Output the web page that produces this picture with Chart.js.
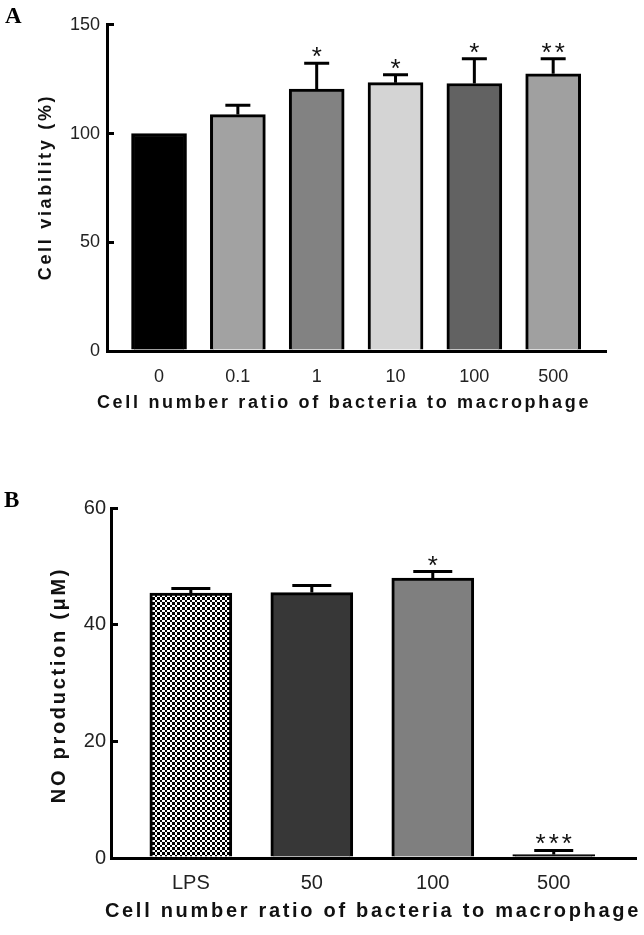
<!DOCTYPE html>
<html>
<head>
<meta charset="utf-8">
<script src="https://cdn.jsdelivr.net/npm/chart.js@4.4.1/dist/chart.umd.min.js"></script>
<style>
    body { margin: 0; background: #ffffff; }
    #wrapA { position: absolute; left: 0; top: 0; width: 644px; height: 430px; }
    #wrapB { position: absolute; left: 0; top: 460px; width: 644px; height: 475px; }
</style>
</head>
<body>
<div id="wrapA"><canvas id="chartA"></canvas></div>
<div id="wrapB"><canvas id="chartB"></canvas></div>
<script>
// Panel A: cell viability
const a_labels = ['0', '0.1', '1', '10', '100', '500'];
const a_mean = [100, 108.7, 120.4, 123.4, 123.0, 127.5];
const a_err = [0, 4.3, 11.9, 3.6, 11.4, 6.9];
const a_sig = ['', '', '*', '*', '*', '**'];
const a_ticks = [0, 50, 100, 150];

// Panel B: NO production
const b_labels = ['LPS', '50', '100', '500'];
const b_mean = [45.4, 45.5, 48.0, 0.6];
const b_err = [0.8, 1.2, 1.1, 0.7];
const b_sig = ['', '', '*', '***'];
const b_ticks = [0, 20, 40, 60];

const x_title = 'Cell number ratio of bacteria to macrophage';

// checker pattern for the LPS bar
function checker(){
    const c = document.createElement('canvas');
    c.width = 10; c.height = 10;
    const g = c.getContext('2d');
    g.fillStyle = '#ffffff';
    g.fillRect(0, 0, 10, 10);
    g.fillStyle = '#000000';
    const edges = [0, 2, 5, 7, 10];
    for (let i = 0; i < 4; i++) {
        for (let j = 0; j < 4; j++) {
            if ((i + j) % 2 === 0) {
                g.fillRect(edges[i], edges[j], edges[i+1] - edges[i], edges[j+1] - edges[j]);
            }
        }
    }
    return g.createPattern(c, 'repeat');
}

// error bars (upper half only) + significance stars + titles
function decorations(o){
    return {
        id: 'decor',
        afterDatasetsDraw(chart) {
            const ctx = chart.ctx;
            const meta = chart.getDatasetMeta(0);
            const ys = chart.scales.y;
            ctx.save();
            ctx.strokeStyle = '#000';
            ctx.lineWidth = 3;
            ctx.lineCap = 'butt';
            meta.data.forEach((bar, i) => {
                const top = ys.getPixelForValue(o.mean[i]);
                const cap = ys.getPixelForValue(o.mean[i] + o.err[i]);
                if (o.err[i] > 0) {
                    ctx.beginPath();
                    ctx.moveTo(bar.x, top);
                    ctx.lineTo(bar.x, cap);
                    ctx.moveTo(bar.x - o.capW / 2, cap);
                    ctx.lineTo(bar.x + o.capW / 2, cap);
                    ctx.stroke();
                }
                if (o.sig[i]) {
                    ctx.fillStyle = '#111';
                    ctx.font = '26px "Liberation Sans", Arial, sans-serif';
                    ctx.letterSpacing = '3px';
                    ctx.textAlign = 'center';
                    ctx.textBaseline = 'alphabetic';
                    ctx.fillText(o.sig[i], bar.x + 1.5, cap + 2);
                }
            });
            ctx.restore();
        },
        afterDraw(chart) {
            const ctx = chart.ctx;
            ctx.save();
            ctx.fillStyle = '#111';
            ctx.letterSpacing = o.spacing + 'px';
            ctx.font = 'bold ' + o.titleSize + 'px "Liberation Sans", Arial, sans-serif';
            ctx.textAlign = 'center';
            ctx.textBaseline = 'alphabetic';
            ctx.fillText(x_title, o.xtX, o.xtY);
            ctx.translate(o.ytX, o.ytY);
            ctx.rotate(-Math.PI / 2);
            ctx.textBaseline = 'middle';
            ctx.fillText(o.ytitle, 0, 0);
            ctx.restore();

            ctx.save();
            ctx.fillStyle = '#000';
            ctx.font = 'bold 23px "Liberation Serif", "Times New Roman", serif';
            ctx.textAlign = 'left';
            ctx.textBaseline = 'alphabetic';
            ctx.fillText(o.panel, o.pX, o.pY);
            ctx.restore();
        }
    };
}

function draw_panel(id, labels, mean, colors, ticks, o){
    const ctx = document.getElementById(id).getContext('2d');
    const pts = mean.map((v, i) => ({x: i, y: v}));

    new Chart(ctx, {
        type: 'bar',
        data: {
            datasets: [{
                data: pts,
                backgroundColor: colors,
                borderColor: '#000000',
                borderWidth: 3,
                borderSkipped: 'start',
                barThickness: o.barW
            }]
        },
        options: {
            responsive: true,
            maintainAspectRatio: false,
            animation: false,
            layout: { padding: o.pad },
            scales: {
                x: {
                    type: 'linear',
                    offset: false,
                    min: o.xmin,
                    max: o.xmax,
                    afterBuildTicks: s => { s.ticks = labels.map((_, i) => ({value: i})); },
                    afterFit: s => { s.height = o.xh; },
                    grid: { display: false, drawTicks: false, offset: false },
                    border: { display: true, color: '#000', width: 3 },
                    ticks: {
                        autoSkip: false,
                        padding: o.xpad,
                        color: '#222',
                        font: { size: o.tickSize, family: '"Liberation Sans", Arial, sans-serif' },
                        callback: v => labels[v]
                    }
                },
                y: {
                    min: 0,
                    max: ticks[ticks.length - 1],
                    afterBuildTicks: s => { s.ticks = ticks.map(v => ({value: v})); },
                    afterFit: s => { s.width = o.yw; },
                    grid: {
                        display: true,
                        drawOnChartArea: false,
                        drawTicks: true,
                        tickLength: -7,
                        color: '#000',
                        lineWidth: 3
                    },
                    border: { display: true, color: '#000', width: 3 },
                    ticks: {
                        padding: o.ypad,
                        color: '#222',
                        font: { size: o.tickSize, family: '"Liberation Sans", Arial, sans-serif' }
                    }
                }
            },
            plugins: {
                legend: { display: false },
                tooltip: { enabled: false }
            }
        },
        plugins: [decorations(o)]
    });
}

window.onload = function() {
    draw_panel('chartA', a_labels, a_mean,
        ['#000000', '#a2a2a2', '#828282', '#d4d4d4', '#626262', '#a0a0a0'], a_ticks,
        {
            mean: a_mean, err: a_err, sig: a_sig, capW: 25, barW: 55,
            xmin: -0.66, xmax: 5.67, xh: 79, xpad: 15, yw: 107, ypad: 14,
            pad: {top: 20, right: 38, left: 0, bottom: 0},
            tickSize: 18, titleSize: 18, spacing: 2.7,
            xtX: 344, xtY: 408, ytX: 46, ytY: 187, ytitle: 'Cell viability (%)',
            panel: 'A', pX: 5, pY: 23
        });

    draw_panel('chartB', b_labels, b_mean,
        [checker(), '#373737', '#7f7f7f', '#000000'], b_ticks,
        {
            mean: b_mean, err: b_err, sig: b_sig, capW: 39, barW: 82,
            xmin: -0.66, xmax: 3.68, xh: 77, xpad: 13, yw: 111, ypad: 12,
            pad: {top: 48, right: 8, left: 0, bottom: 0},
            tickSize: 20, titleSize: 20, spacing: 2.7,
            xtX: 373, xtY: 457, ytX: 59, ytY: 225, ytitle: 'NO production (μM)',
            panel: 'B', pX: 4, pY: 47
        });
}
</script>
</body>
</html>
